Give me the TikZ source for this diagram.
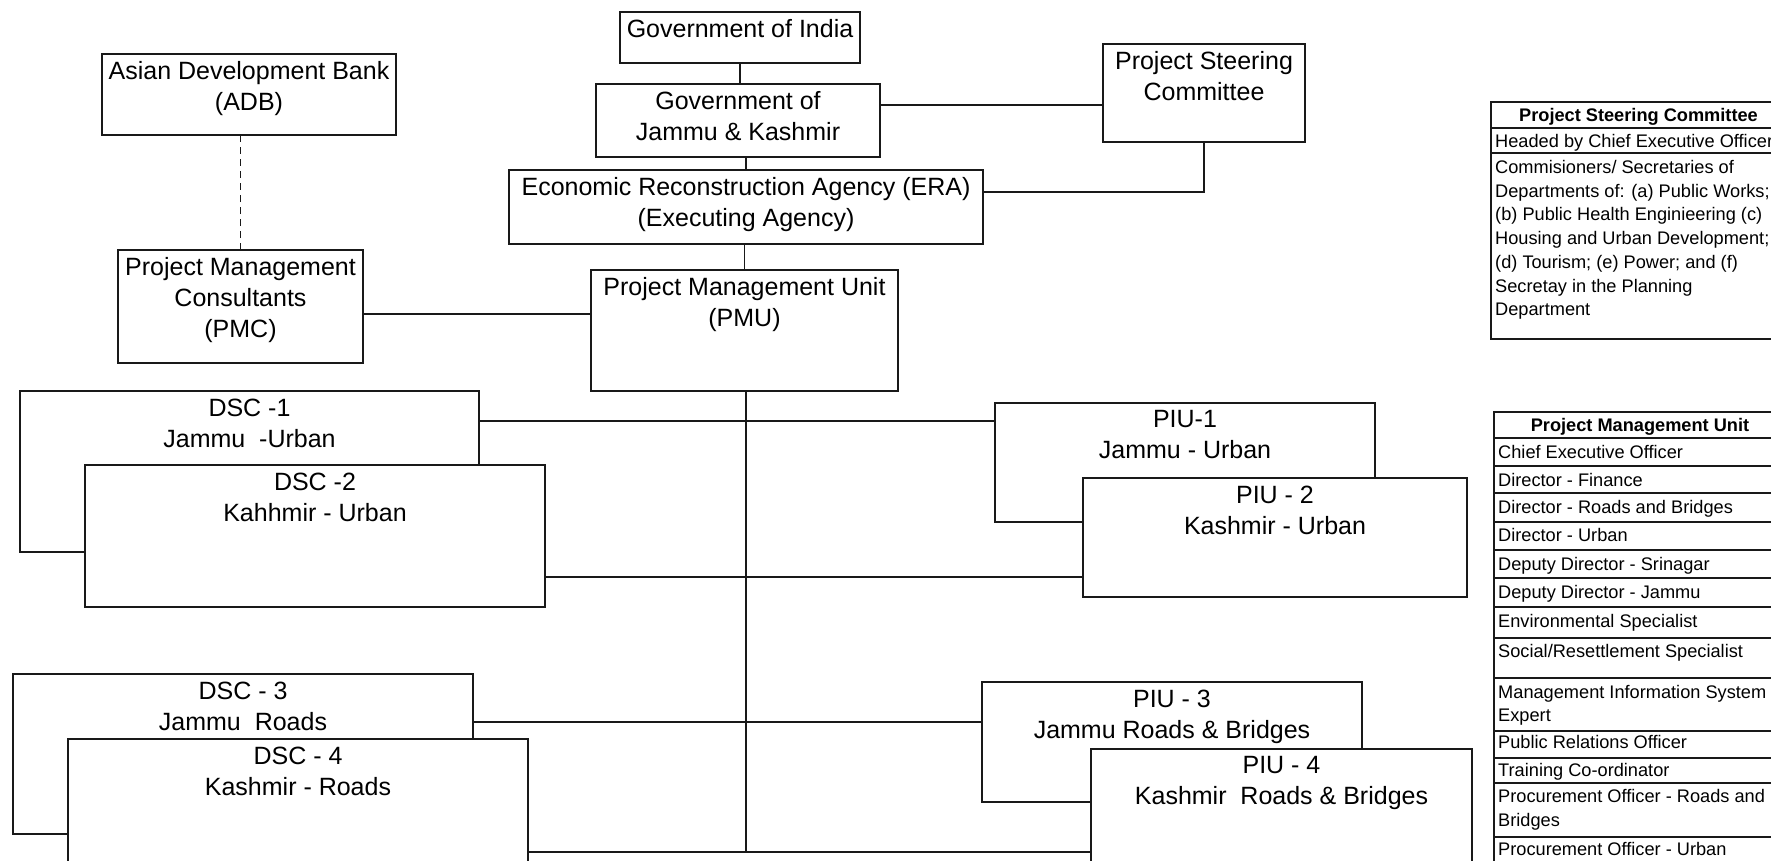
\documentclass[tikz,border=0pt]{standalone}
\usepackage{fontspec}
\setmainfont{Liberation Sans}
\usetikzlibrary{calc}
\begin{document}
\begin{tikzpicture}[x=1pt,y=-1pt,
  box/.style={draw=black!90, line width=1.6pt, fill=white, inner sep=0pt, outer sep=0pt, anchor=north west},
  txt/.style={font=\fontsize{25}{31}\selectfont, align=center, anchor=north, inner sep=0pt, yshift=-7.5pt},
  conn/.style={draw=black!90, line width=1.6pt},
  dashconn/.style={conn, line width=1.3pt, dash pattern=on 7pt off 5pt},
  tline/.style={draw=black!90, line width=1.4pt},
  tcell/.style={font=\fontsize{18.2}{23.7}\selectfont, anchor=west, inner sep=0pt, text height=13pt, text depth=0pt},
  thead/.style={font=\bfseries\fontsize{18.2}{23.7}\selectfont, anchor=center, inner sep=0pt, text height=13pt, text depth=0pt}]

\useasboundingbox (0,0) rectangle (1771,861);
\clip (0,0) rectangle (1771,861);

% ---------- organisation boxes ----------
\node[box, minimum width=240pt, minimum height=51pt, label={[txt]north:Government of India}] (goi) at (620,12) {};
\node[box, minimum width=294pt, minimum height=81pt, label={[txt]north:Asian Development Bank\\(ADB)}] (adb) at (102,54) {};
\node[box, minimum width=284pt, minimum height=73pt, label={[txt]north:Government of\\Jammu \& Kashmir}] (gjk) at (596,84) {};
\node[box, minimum width=202pt, minimum height=98pt, label={[txt]north:Project Steering\\Committee}] (psc) at (1103,44) {};
\node[box, minimum width=474pt, minimum height=74pt, label={[txt]north:Economic Reconstruction Agency (ERA)\\(Executing Agency)}] (era) at (509,170) {};
\node[box, minimum width=245pt, minimum height=113pt, label={[txt]north:Project Management\\Consultants\\(PMC)}] (pmc) at (118,250) {};
\node[box, minimum width=307pt, minimum height=121pt, label={[txt]north:Project Management Unit\\(PMU)}] (pmu) at (591,270) {};

\node[box, minimum width=459pt, minimum height=161pt, label={[txt]north:DSC -1\\Jammu~~-Urban}] (dsc1) at (20,391) {};
\node[box, minimum width=460pt, minimum height=142pt, label={[txt]north:DSC -2\\Kahhmir - Urban}] (dsc2) at (85,465) {};
\node[box, minimum width=460pt, minimum height=160pt, label={[txt]north:DSC - 3\\Jammu~~Roads}] (dsc3) at (13,674) {};
\node[box, minimum width=460pt, minimum height=160pt, label={[txt]north:DSC - 4\\Kashmir - Roads}] (dsc4) at (68,739) {};

\node[box, minimum width=380pt, minimum height=119pt, label={[txt]north:PIU-1\\Jammu - Urban}] (piu1) at (995,403) {};
\node[box, minimum width=384pt, minimum height=119pt, label={[txt]north:PIU - 2\\Kashmir - Urban}] (piu2) at (1083,478) {};
\node[box, minimum width=380pt, minimum height=120pt, label={[txt]north:PIU - 3\\Jammu Roads \& Bridges}] (piu3) at (982,682) {};
\node[box, minimum width=381pt, minimum height=120pt, label={[txt]north:PIU - 4\\Kashmir~~Roads \& Bridges}] (piu4) at (1091,749) {};

% ---------- connectors ----------
\draw[conn] (goi.south) -- (goi.south |- gjk.north);
\draw[conn] (era.north) -- (era.north |- gjk.south);
\draw[conn] (pmu.north) -- (pmu.north |- era.south);
\draw[conn] ([yshift=15.5pt]gjk.east) -- ([yshift=15.5pt]gjk.east -| psc.west);
\draw[conn] ([yshift=15pt]era.east) -| (psc.south);
\draw[dashconn] (pmc.north) -- (pmc.north |- adb.south);
\draw[conn] ([yshift=-7.5pt]pmc.east) -- ([yshift=-7.5pt]pmc.east -| pmu.west);

\coordinate (bus1) at ([yshift=-30pt]dsc1.north east);
\coordinate (bus2) at ([yshift=-112pt]dsc2.north east);
\coordinate (bus3) at ([yshift=-48pt]dsc3.north east);
\coordinate (bus4) at ([yshift=-113pt]dsc4.north east);
\draw[conn] (bus1) -- (bus1 -| piu1.west);
\draw[conn] (bus2) -- (bus2 -| piu2.west);
\draw[conn] (bus3) -- (bus3 -| piu3.west);
\draw[conn] (bus4) -- (bus4 -| piu4.west);
\draw[conn] ([xshift=1.5pt]pmu.south) -- ([xshift=1.5pt]bus4 -| pmu.south);

% ---------- Project Steering Committee table ----------
\draw[tline] (1491,102) rectangle (1786,339);
\draw[tline] (1491,128) -- (1786,128);
\draw[tline] (1491,153) -- (1786,153);
\node[thead] (psch) at (1638.5,115) {Project Steering Committee};
\node[tcell] (psc0) at (1495,141) {Headed by Chief Executive Officer};
\foreach \t [count=\i from 0] in {Commisioners/ Secretaries of,Departments of: (a) Public Works;,(b) Public Health Enginieering (c),Housing and Urban Development;,(d) Tourism; (e) Power; and (f),Secretay in the Planning,Department}
  \node[tcell] (psct\i) at (1495,167+23.7*\i) {\t};

% ---------- Project Management Unit table ----------
\draw[tline] (1494,880) -- (1494,412) -- (1786,412) -- (1786,880);
\foreach \yy in {438,466,493,522,550,578,607,638,678,731,758,783,837}
  \draw[tline] (1494,\yy) -- (1786,\yy);
\node[thead] (pmuh) at (1640,425) {Project Management Unit};
\node[tcell] (pm1) at (1498,452) {Chief Executive Officer};
\node[tcell] (pm2) at (1498,480) {Director - Finance};
\node[tcell] (pm3) at (1498,507) {Director - Roads and Bridges};
\node[tcell] (pm4) at (1498,535) {Director - Urban};
\node[tcell] (pm5) at (1498,564) {Deputy Director - Srinagar};
\node[tcell] (pm6) at (1498,592) {Deputy Director - Jammu};
\node[tcell] (pm7) at (1498,621) {Environmental Specialist};
\node[tcell] (pm8) at (1498,651) {Social/Resettlement Specialist};
\node[tcell] (pm9) at (1498,692) {Management Information System};
\node[tcell] (pm9b) at (1498,715) {Expert};
\node[tcell] (pm10) at (1498,742) {Public Relations Officer};
\node[tcell] (pm11) at (1498,770) {Training Co-ordinator};
\node[tcell] (pm12) at (1498,796) {Procurement Officer - Roads and};
\node[tcell] (pm12b) at (1498,820) {Bridges};
\node[tcell] (pm13) at (1498,849) {Procurement Officer - Urban};
\end{tikzpicture}
\end{document}
